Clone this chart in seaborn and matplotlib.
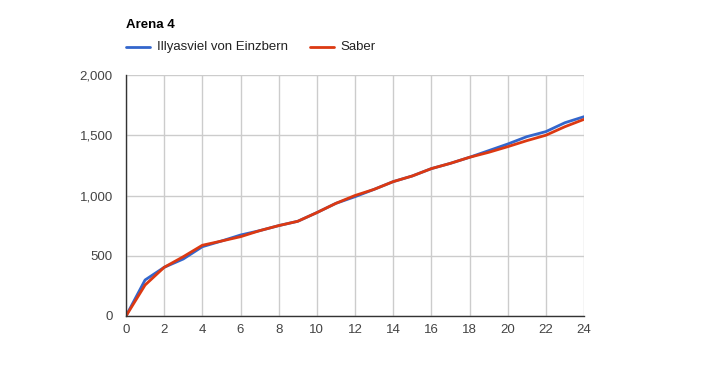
import matplotlib
matplotlib.use("Agg")
import matplotlib.pyplot as plt
from matplotlib.lines import Line2D
from matplotlib.ticker import FuncFormatter, MultipleLocator
import seaborn as sns
import pandas as pd

title = "Arena 4"
hours = list(range(25))
illya = [0, 299, 404, 473, 575, 622, 672, 708, 750, 786, 858, 935, 990,
         1051, 1115, 1162, 1223, 1267, 1317, 1372, 1427, 1488, 1530, 1604, 1654]
saber = [0, 257, 404, 492, 587, 622, 658, 708, 750, 786, 858, 935, 1000,
         1051, 1115, 1162, 1223, 1267, 1317, 1358, 1405, 1455, 1500, 1571, 1632]
series_names = ["Illyasviel von Einzbern", "Saber"]
colors = ["#3366cc", "#dc3912"]

df = pd.concat([
    pd.DataFrame({"x": hours, "y": illya, "s": series_names[0]}),
    pd.DataFrame({"x": hours, "y": saber, "s": series_names[1]}),
])

sns.set_theme(style="white")
plt.rcParams["font.family"] = ["Liberation Sans", "DejaVu Sans"]

W, H = 711, 391
fig = plt.figure(figsize=(W / 100, H / 100), dpi=100)
ax = fig.add_axes([126 / W, (H - 316) / H, (584 - 126) / W, (316 - 75) / H])

sns.lineplot(data=df, x="x", y="y", hue="s", palette=colors, ax=ax,
             linewidth=2, legend=False, sort=True)

ax.set_xlim(0, 24)
ax.set_ylim(0, 2000)
ax.xaxis.set_major_locator(MultipleLocator(2))
ax.yaxis.set_major_locator(MultipleLocator(500))
ax.yaxis.set_major_formatter(FuncFormatter(lambda v, p: f"{int(v):,}"))
ax.grid(True, color="#cccccc", linewidth=1)
ax.set_axisbelow(True)
ax.set_xlabel("")
ax.set_ylabel("")
for side in ["top", "right"]:
    ax.spines[side].set_visible(False)
for side in ["left", "bottom"]:
    ax.spines[side].set_color("#333333")
    ax.spines[side].set_linewidth(1)
    ax.spines[side].set_zorder(5)
ax.tick_params(axis="both", length=0, labelsize=9.5, colors="#444444")
ax.tick_params(axis="x", pad=6)
ax.tick_params(axis="y", pad=9.5)

fig.text(126 / W, 1 - 25 / H, title, fontsize=9.5, fontweight="bold",
         color="#000000", va="center", ha="left")

ly = 1 - 47 / H
fig.add_artist(Line2D([126 / W, 150 / W], [ly, ly], color=colors[0], linewidth=2))
fig.text(157 / W, ly, series_names[0], fontsize=9.5, color="#222222", va="center", ha="left")
fig.add_artist(Line2D([310 / W, 334 / W], [ly, ly], color=colors[1], linewidth=2))
fig.text(340 / W, ly, series_names[1], fontsize=9.5, color="#222222", va="center", ha="left")

fig.savefig("out.png", dpi=100, facecolor="white")
